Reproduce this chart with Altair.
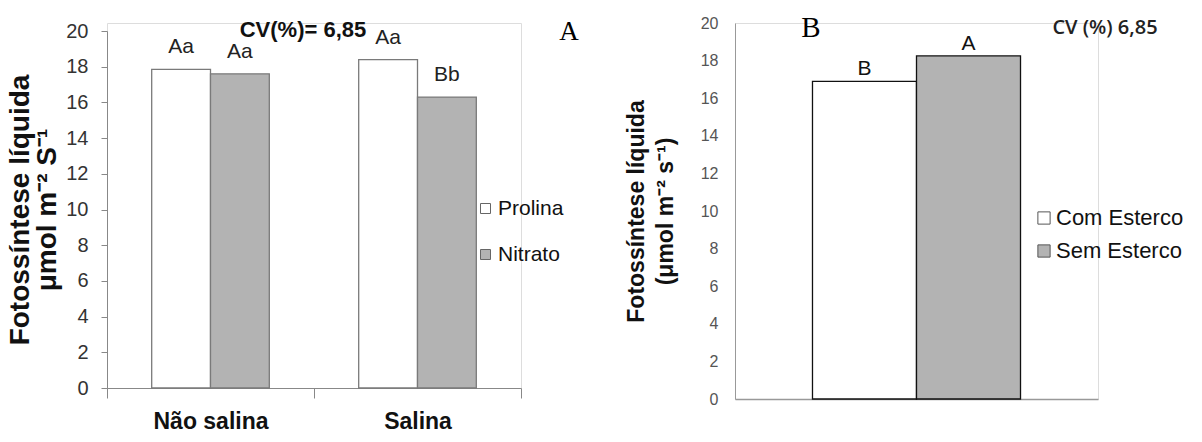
import altair as alt
import pandas as pd

# ---------------- data ----------------
a_categories = ["Não salina", "Não salina", "Salina", "Salina"]
a_series = ["Prolina", "Nitrato", "Prolina", "Nitrato"]
a_values = [17.85, 17.6, 18.4, 16.3]
a_letters = ["Aa", "Aa", "Aa", "Bb"]
a_cat_order = ["Não salina", "Salina"]
a_series_order = ["Prolina", "Nitrato"]

b_series = ["Com Esterco", "Sem Esterco"]
b_values = [16.9, 18.25]
b_letters = ["B", "A"]

y_ticks = [0, 2, 4, 6, 8, 10, 12, 14, 16, 18, 20]

SANS = "Liberation Sans, Arial, sans-serif"
SERIF = "Liberation Serif, Times New Roman, serif"
GRAY = "#b3b3b3"

# ---------------- panel A ----------------
dfa = pd.DataFrame({"cat": a_categories, "serie": a_series, "val": a_values, "lab": a_letters})

xa = alt.X("cat:N", sort=a_cat_order, title=None,
           scale=alt.Scale(paddingInner=0, paddingOuter=0),
           axis=alt.Axis(labelAngle=0, labelFont=SANS, labelFontSize=23, labelFontWeight="bold",
                         labelColor="#111", tickBand="extent", tickSize=10, tickColor="#888",
                         domainColor="#888", labelPadding=12))
xoffa = alt.XOffset("serie:N", sort=a_series_order,
                    scale=alt.Scale(paddingInner=0, paddingOuter=0.76))
ya = alt.Y("val:Q", scale=alt.Scale(domain=[0, 20], range=[365, 8], nice=False),
           axis=alt.Axis(values=y_ticks, grid=False, tickSize=6, tickColor="#888", domainColor="#888",
                         labelFont=SANS, labelFontSize=20, labelColor="#333", labelPadding=13,
                         title=["Fotossíntese líquida", "μmol m⁻² S⁻¹"], titleFont=SANS,
                         titleFontSize=28, titleFontWeight="bold", titleColor="#111",
                         titleLineHeight=27, titlePadding=4))
colora = alt.Color("serie:N", sort=a_series_order,
                   scale=alt.Scale(domain=a_series_order, range=["#ffffff", GRAY]),
                   legend=alt.Legend(title=None, orient="none", legendX=368, legendY=175,
                                     symbolType="square", symbolSize=100, symbolStrokeColor="#666",
                                     symbolStrokeWidth=1, labelFont=SANS, labelFontSize=21,
                                     labelColor="#111", rowPadding=24, labelOffset=2, padding=0))

bars_a = alt.Chart(dfa).mark_bar(stroke="#7a7a7a", strokeWidth=1.3).encode(
    x=xa, xOffset=xoffa, y=ya, color=colora)
labels_a = alt.Chart(dfa).mark_text(baseline="bottom", dy=-12, font=SANS, fontSize=21,
                                    color="#222").encode(x=xa, xOffset=xoffa, y=ya, text="lab:N")
cv_a = alt.Chart(pd.DataFrame({"t": ["CV(%)= 6,85"]})).mark_text(
    font=SANS, fontSize=22, fontWeight="bold", color="#111").encode(
    x=alt.value(196), y=alt.value(7), text="t:N")
tag_a = alt.Chart(pd.DataFrame({"t": ["A"]})).mark_text(
    font=SERIF, fontSize=27, color="#000").encode(x=alt.value(462), y=alt.value(9), text="t:N")

panel_a = alt.layer(bars_a, labels_a, cv_a, tag_a).properties(width=414, height=365)

# ---------------- panel B ----------------
dfb = pd.DataFrame({"serie": b_series, "val": b_values, "lab": b_letters})

xb = alt.X("serie:N", sort=b_series, title=None,
           scale=alt.Scale(paddingInner=0, paddingOuter=0.745),
           axis=alt.Axis(labels=False, ticks=False, domainColor="#999", domainWidth=1.3))
yb = alt.Y("val:Q", scale=alt.Scale(domain=[0, 20], nice=False),
           axis=alt.Axis(values=y_ticks, grid=False, ticks=False, domainColor="#999",
                         labelFont=SANS, labelFontSize=16, labelColor="#555", labelPadding=17,
                         title=["Fotossíntese líquida", "(μmol m⁻² s⁻¹)"], titleFont=SANS,
                         titleFontSize=23, titleFontWeight="bold", titleColor="#111",
                         titleLineHeight=29, titlePadding=23))
colorb = alt.Color("serie:N", sort=b_series,
                   scale=alt.Scale(domain=b_series, range=["#ffffff", GRAY]),
                   legend=alt.Legend(title=None, orient="none", legendX=298, legendY=184,
                                     symbolType="square", symbolSize=150, symbolStrokeColor="#555",
                                     symbolStrokeWidth=1, labelFont=SANS, labelFontSize=22,
                                     labelColor="#111", rowPadding=11, labelOffset=1, padding=0))

bars_b = alt.Chart(dfb).mark_bar(stroke="#111", strokeWidth=1.3).encode(x=xb, y=yb, color=colorb)
labels_b = alt.Chart(dfb).mark_text(baseline="bottom", dy=-2, font=SANS, fontSize=21,
                                    color="#111").encode(x=xb, y=yb, text="lab:N")
cv_b = alt.Chart(pd.DataFrame({"t": ["CV (%) 6,85"]})).mark_text(
    font="Open Sans, sans-serif", fontSize=20, fontWeight=600, color="#222").encode(
    x=alt.value(370), y=alt.value(5), text="t:N")
tag_b = alt.Chart(pd.DataFrame({"t": ["B"]})).mark_text(
    font=SERIF, fontSize=29, color="#000").encode(x=alt.value(76), y=alt.value(5), text="t:N")

panel_b = alt.layer(bars_b, labels_b, cv_b, tag_b).properties(width=363, height=376)

chart = alt.hconcat(panel_a, panel_b, spacing=44).resolve_scale(
    color="independent", x="independent", y="independent"
).properties(padding={"left": 6, "top": 13, "right": 0, "bottom": 0}).configure_view(stroke=None).configure(
    background="#ffffff")

chart.save("out.html", embed_options={"renderer": "svg", "actions": False})
